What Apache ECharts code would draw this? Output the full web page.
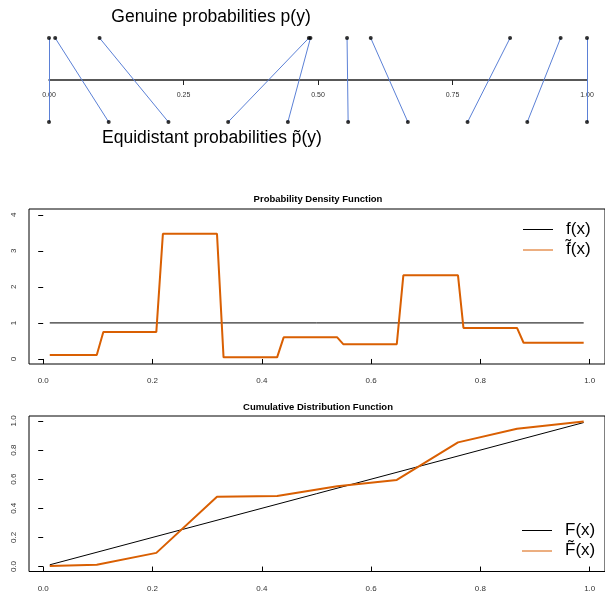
<!DOCTYPE html>
<html>
<head>
<meta charset="utf-8">
<script src="https://cdn.jsdelivr.net/npm/echarts@6/dist/echarts.min.js"></script>
<style>
  html, body { margin: 0; padding: 0; background: #fff; }
  #chart { width: 605px; height: 597px; }
</style>
</head>
<body>
<div id="chart"></div>
<script>
// top diagram: sorted genuine probabilities and the equidistant ones they map to
const genuineP = [0, 0.0115, 0.094, 0.483, 0.486, 0.554, 0.598, 0.857, 0.951, 1.0];
const equiP = [0, 0.111, 0.222, 0.333, 0.444, 0.556, 0.667, 0.778, 0.889, 1.0];

// density
const pdfX = [0.012, 0.098, 0.110, 0.207, 0.219, 0.318, 0.330, 0.428, 0.440, 0.538, 0.549, 0.647, 0.659, 0.759, 0.769, 0.867, 0.879, 0.989];
const pdfY = [0.11, 0.11, 0.75, 0.75, 3.47, 3.47, 0.045, 0.045, 0.60, 0.60, 0.41, 0.41, 2.32, 2.32, 0.86, 0.86, 0.45, 0.45];
const unifX = [0.012, 0.989];
const unifPdf = [1, 1];
const pdfTicksY = [0, 1, 2, 3, 4];

// distribution
const cdfX = [0.012, 0.098, 0.207, 0.318, 0.428, 0.538, 0.647, 0.759, 0.867, 0.989];
const cdfY = [0.004, 0.013, 0.094, 0.48, 0.485, 0.552, 0.595, 0.853, 0.947, 0.997];
const unifCdf = [0.012, 0.989];
const cdfTicksY = [0, 0.2, 0.4, 0.6, 0.8, 1.0];

const xTicks = [0, 0.2, 0.4, 0.6, 0.8, 1.0];

const FONT = 'Liberation Sans, Arial, sans-serif';
const ORANGE = '#d95f02';
const BLUE = '#5b80d6';

const zip = (a, b) => a.map((v, i) => [v, b[i]]);

const chart = echarts.init(document.getElementById('chart'), null, { renderer: 'canvas' });

// R-like box axes
const rAxisX = (gridIndex) => ({
  type: 'value', gridIndex, min: -0.026, max: 1.028,
  axisLine: { show: false },
  axisTick: { show: true, length: 5, customValues: xTicks, lineStyle: { color: '#000' } },
  axisLabel: { customValues: xTicks, fontSize: 8, color: '#333', margin: 13, fontFamily: FONT,
               formatter: v => v.toFixed(1) },
  splitLine: { show: false }
});
const rAxisY = (gridIndex, min, max, ticks, digits) => ({
  type: 'value', gridIndex, min, max,
  axisLine: { show: false },
  axisTick: { show: true, length: 5, customValues: ticks, lineStyle: { color: '#000' } },
  axisLabel: { customValues: ticks, fontSize: 8, color: '#333', margin: 11, rotate: 90, fontFamily: FONT,
               formatter: v => v.toFixed(digits) },
  splitLine: { show: false }
});

const legendItems = (x, y, labels) => {
  const out = [];
  labels.forEach((lab, i) => {
    out.push({
      type: 'line', shape: { x1: x, y1: y + i * 20.5, x2: x + 30, y2: y + i * 20.5 },
      style: { stroke: i === 0 ? '#000' : ORANGE, lineWidth: 1 }
    });
    out.push({
      type: 'text', left: x + 43, top: y + i * 20.5 - 9,
      style: { text: lab, font: '17px ' + FONT, fill: '#000' }
    });
  });
  return out;
};

const option = {
  animation: false,
  grid: [
    { left: 49, width: 538, top: 38, height: 84 },
    { left: 29, width: 580, top: 209, height: 155, show: true, borderColor: '#000', borderWidth: 1 },
    { left: 29, width: 580, top: 416, height: 155.5, show: true, borderColor: '#000', borderWidth: 1 }
  ],
  xAxis: [
    {
      type: 'value', gridIndex: 0, min: 0, max: 1, interval: 0.25,
      position: 'bottom', offset: -42,
      axisLine: { show: true, onZero: false, lineStyle: { color: '#222', width: 1.5 } },
      axisTick: { show: true, length: 5, lineStyle: { color: '#222' } },
      axisLabel: { fontSize: 7, color: '#333', margin: 12, fontFamily: FONT, formatter: v => v.toFixed(2) },
      splitLine: { show: false }
    },
    rAxisX(1),
    rAxisX(2)
  ],
  yAxis: [
    { type: 'value', gridIndex: 0, min: -1, max: 1, show: false },
    rAxisY(1, -0.14, 4.16, pdfTicksY, 0),
    rAxisY(2, -0.034, 1.034, cdfTicksY, 1)
  ],
  series: [
    {
      type: 'lines', coordinateSystem: 'cartesian2d', xAxisIndex: 0, yAxisIndex: 0,
      lineStyle: { color: BLUE, width: 1, opacity: 1 },
      data: genuineP.map((p, i) => ({ coords: [[p, 1], [equiP[i], -1]] })),
      z: 1
    },
    {
      type: 'scatter', xAxisIndex: 0, yAxisIndex: 0, symbolSize: 4, clip: false,
      itemStyle: { color: '#000' },
      data: genuineP.map(p => [p, 1]), z: 3
    },
    {
      type: 'scatter', xAxisIndex: 0, yAxisIndex: 0, symbolSize: 4, clip: false,
      itemStyle: { color: '#000' },
      data: equiP.map(q => [q, -1]), z: 3
    },
    {
      name: 'f(x)', type: 'line', xAxisIndex: 1, yAxisIndex: 1, showSymbol: false,
      lineStyle: { color: '#000', width: 1 }, data: zip(unifX, unifPdf)
    },
    {
      name: 'f\u0303(x)', type: 'line', xAxisIndex: 1, yAxisIndex: 1, showSymbol: false,
      lineStyle: { color: ORANGE, width: 2 }, data: zip(pdfX, pdfY)
    },
    {
      name: 'F(x)', type: 'line', xAxisIndex: 2, yAxisIndex: 2, showSymbol: false,
      lineStyle: { color: '#000', width: 1 }, data: zip(unifX, unifCdf)
    },
    {
      name: 'F\u0303(x)', type: 'line', xAxisIndex: 2, yAxisIndex: 2, showSymbol: false,
      lineStyle: { color: ORANGE, width: 2 }, data: zip(cdfX, cdfY)
    }
  ],
  graphic: [
    { type: 'text', x: 211, y: 17, style: { text: 'Genuine probabilities p(y)', font: '17.5px ' + FONT,
      fill: '#000', align: 'center', verticalAlign: 'middle' } },
    { type: 'text', x: 212, y: 138, style: { text: 'Equidistant probabilities p\u0303(y)', font: '17.5px ' + FONT,
      fill: '#000', align: 'center', verticalAlign: 'middle' } },
    { type: 'text', x: 318, y: 199, style: { text: 'Probability Density Function', font: 'bold 9.5px ' + FONT,
      fill: '#000', align: 'center', verticalAlign: 'middle' } },
    { type: 'text', x: 318, y: 407, style: { text: 'Cumulative Distribution Function', font: 'bold 9.5px ' + FONT,
      fill: '#000', align: 'center', verticalAlign: 'middle' } },
    ...legendItems(523, 229.5, ['f(x)', 'f\u0303(x)']),
    ...legendItems(522, 530.5, ['F(x)', 'F\u0303(x)'])
  ]
};

chart.setOption(option);
</script>
</body>
</html>
